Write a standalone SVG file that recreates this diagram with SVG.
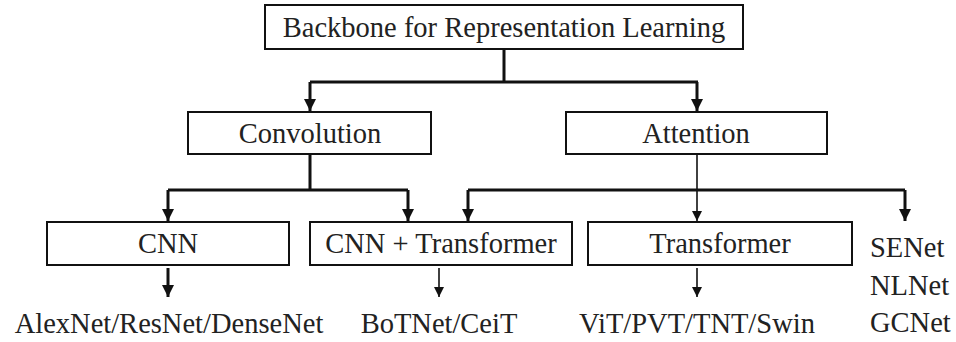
<svg xmlns="http://www.w3.org/2000/svg" width="956" height="342" viewBox="0 0 956 342">
<style>
.box{fill:#fff;stroke:#111;stroke-width:2}
.t{font-family:"Liberation Serif","Times New Roman",serif;font-size:28.5px;fill:#222;text-anchor:middle}
.tl{font-family:"Liberation Serif","Times New Roman",serif;font-size:28.5px;fill:#222}
.thick{fill:none;stroke:#111;stroke-width:3}
.thin{fill:none;stroke:#111;stroke-width:1.6}
</style>
<defs>
<marker id="ah" viewBox="0 0 10 10" refX="10" refY="5" markerWidth="4" markerHeight="4" markerUnits="strokeWidth" orient="auto"><path d="M0,0 L10,5 L0,10 z" fill="#111"/></marker>
<marker id="ahs" viewBox="0 0 10 10" refX="10" refY="5" markerWidth="6.5" markerHeight="6.5" markerUnits="strokeWidth" orient="auto"><path d="M0,0 L10,5 L0,10 z" fill="#111"/></marker>
</defs>
<rect width="956" height="342" fill="#fff"/>
<g id="connectors">
<path class="thick" d="M504,49 V82 M310,82 H698"/>
<path class="thick" d="M310,82 V111" marker-end="url(#ah)"/>
<path class="thick" d="M697,82 V111" marker-end="url(#ah)"/>
<path class="thick" d="M310,155 V190 M168,190 H408"/>
<path class="thick" d="M168,190 V221" marker-end="url(#ah)"/>
<path class="thick" d="M408,190 V221" marker-end="url(#ah)"/>
<path class="thin" d="M697,155 V221" marker-end="url(#ahs)"/>
<path class="thick" d="M468,190 H905"/>
<path class="thick" d="M468,190 V221" marker-end="url(#ah)"/>
<path class="thick" d="M905,190 V221" marker-end="url(#ah)"/>
<path class="thick" d="M168,268 V297" marker-end="url(#ah)"/>
<path class="thin" d="M439,268 V297" marker-end="url(#ahs)"/>
<path class="thin" d="M697,268 V297" marker-end="url(#ahs)"/>
</g>
<g id="root"><rect class="box" x="265" y="5" width="478" height="44"/><text class="t" x="504" y="37">Backbone for Representation Learning</text></g>
<g id="convolution"><rect class="box" x="188" y="112" width="243" height="42"/><text class="t" x="310" y="143">Convolution</text></g>
<g id="attention"><rect class="box" x="566" y="112" width="261" height="42"/><text class="t" x="696" y="143">Attention</text></g>
<g id="cnn"><rect class="box" x="47" y="222" width="242" height="43"/><text class="t" x="168" y="253">CNN</text></g>
<g id="cnn-transformer"><rect class="box" x="310" y="222" width="262" height="43"/><text class="t" x="441" y="253">CNN + Transformer</text></g>
<g id="transformer"><rect class="box" x="588" y="222" width="264" height="43"/><text class="t" x="720" y="253">Transformer</text></g>
<g id="cnn-examples"><text class="t" x="169" y="333">AlexNet/ResNet/DenseNet</text></g>
<g id="hybrid-examples"><text class="t" x="439" y="333">BoTNet/CeiT</text></g>
<g id="transformer-examples"><text class="t" x="697" y="333">ViT/PVT/TNT/Swin</text></g>
<g id="attention-examples"><text class="tl" x="870" y="257">SENet</text><text class="tl" x="870" y="295">NLNet</text><text class="tl" x="870" y="332">GCNet</text></g>
</svg>
